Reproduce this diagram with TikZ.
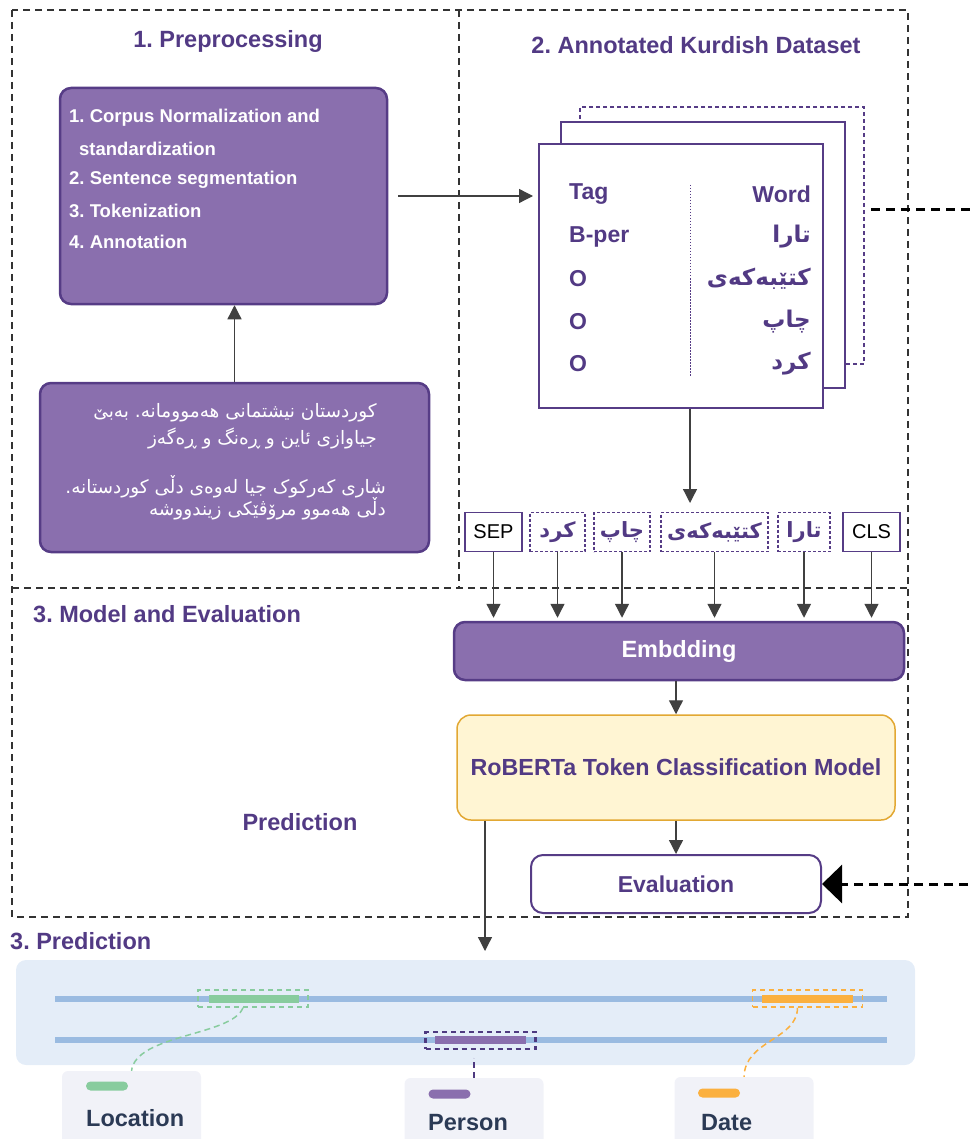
\documentclass[tikz,border=0pt]{standalone}
\usepackage{fontspec}
\setmainfont{Liberation Sans}
\newfontfamily\kurdfont[Script=Arabic]{DejaVu Sans}
\TeXXeTstate=1
\frenchspacing
\usetikzlibrary{arrows.meta}

\definecolor{titlepurple}{HTML}{523A84}
\definecolor{boxpurple}{HTML}{8A6FAE}
\definecolor{edgepurple}{HTML}{563C86}
\definecolor{arrowgray}{HTML}{404040}
\definecolor{framegray}{HTML}{333333}
\definecolor{modelfill}{HTML}{FFF5D3}
\definecolor{modeledge}{HTML}{E2A833}
\definecolor{predfill}{HTML}{E4EDF8}
\definecolor{trackblue}{HTML}{9ABBE1}
\definecolor{locgreen}{HTML}{88CC9E}
\definecolor{dateorange}{HTML}{FBB03F}
\definecolor{perdark}{HTML}{4E3A80}
\definecolor{legendfill}{HTML}{F1F2F8}
\definecolor{legendtext}{HTML}{2B3A55}

\newcommand{\kurd}[1]{{\kurdfont\beginR #1\endR}}

\tikzset{
	headtext/.style={inner sep=0pt, text=titlepurple, font=\fontsize{23.5}{28}\selectfont\bfseries},
	boxtext/.style={anchor=west, inner sep=0pt, text=white, font=\fontsize{18.5}{22}\selectfont\bfseries},
	kurdtext/.style={anchor=east, inner sep=0pt, text=white, font=\fontsize{18.5}{22}\selectfont},
	cardtext/.style={inner sep=0pt, text=titlepurple, font=\fontsize{23}{27}\selectfont\bfseries},
	purplebox/.style={draw=edgepurple, fill=boxpurple, line width=2.5pt, rounded corners=11pt},
	card/.style={draw=edgepurple, fill=white, line width=2pt},
	tokensolid/.style={draw=edgepurple, fill=white, line width=1.5pt, minimum height=39pt, font=\fontsize{20}{24}\selectfont},
	tokendot/.style={draw=edgepurple, fill=white, line width=1.5pt, dash pattern=on 3pt off 2pt, minimum height=39pt, text=titlepurple, font=\fontsize{21}{24}\selectfont\bfseries},
	modelbox/.style={draw=modeledge, fill=modelfill, line width=1.5pt, rounded corners=14pt, text=titlepurple, font=\fontsize{23.3}{28}\selectfont\bfseries},
	evalbox/.style={draw=edgepurple, fill=white, line width=2pt, rounded corners=12pt, text=titlepurple, font=\fontsize{23}{28}\selectfont\bfseries},
	frame/.style={framegray, line width=1.5pt, dash pattern=on 7pt off 5pt},
	arr/.style={arrowgray, line width=1.3pt, -{Triangle[length=14pt, width=14pt]}},
	feedback/.style={black, line width=3pt, dash pattern=on 9pt off 6pt, -{Triangle[length=20pt, width=38pt]}},
	track/.style={trackblue, line width=6pt},
	markbox/.style={line width=1.5pt, dash pattern=on 5pt off 4pt, minimum width=110pt, minimum height=17pt},
	pill/.style={minimum width=42pt, minimum height=9pt, inner sep=0pt, rounded corners=4.5pt},
	legendcard/.style={fill=legendfill, rounded corners=6pt, minimum width=139pt, minimum height=80pt},
	legendlabel/.style={anchor=west, inner sep=0pt, text=legendtext, font=\fontsize{23.5}{28}\selectfont\bfseries},
	linkline/.style={line width=1.5pt, dash pattern=on 6pt off 4pt}
}

\begin{document}
\begin{tikzpicture}[x=1pt,y=-1pt]
	\useasboundingbox (0,0) rectangle (973,1139);

	% dashed frames
	\draw[frame] (12,10) rectangle (908,917);
	\draw[frame] (12,588) -- (908,588);
	\draw[frame] (459,10) -- (459,588);

	\node[headtext] (preptitle) at (228,41) {1. Preprocessing};
	\node[headtext] (datatitle) at (696,45) {2. Annotated Kurdish Dataset};
	\node[headtext, anchor=west] (modeltitle) at (33,614) {3. Model and Evaluation};
	\node[headtext] (predlabel) at (300,822) {Prediction};
	\node[headtext, anchor=west] (predtitle) at (10,941) {3. Prediction};

	% preprocessing
	\node[purplebox, minimum width=327pt, minimum height=216pt] (prep) at (223.5,196) {};
	\node[boxtext] (prep1) at (69,118) {1. Corpus Normalization and};
	\node[boxtext] (prep2) at (79,149) {standardization};
	\node[boxtext] (prep3) at (69,180) {2. Sentence segmentation};
	\node[boxtext] (prep4) at (69,211) {3. Tokenization};
	\node[boxtext] (prep5) at (69,242) {4. Annotation};

	\node[purplebox, minimum width=389pt, minimum height=169pt] (kurdbox) at (234.5,467.5) {};
	\node[kurdtext] (kurd1) at (377,413) {\kurd{کوردستان نیشتمانی هەموومانە. بەبێ}};
	\node[kurdtext] (kurd2) at (377,438) {\kurd{جیاوازی ئاین و ڕەنگ و ڕەگەز}};
	\node[kurdtext] (kurd3) at (386,487) {\kurd{شاری کەرکوک جیا لەوەی دڵی کوردستانە.}};
	\node[kurdtext] (kurd4) at (386,509) {\kurd{دڵی هەموو مرۆڤێکی زیندووشە}};
	\draw[arr] (kurdbox.north) -- (kurdbox.north |- prep.south);

	% dataset cards
	\node[card, line width=1.5pt, dash pattern=on 4pt off 3pt, minimum width=284pt, minimum height=257pt] (card3) at (722,235.5) {};
	\node[card, minimum width=284pt, minimum height=266pt] (card2) at (703,255) {};
	\node[card, minimum width=284pt, minimum height=264pt] (card1) at (681,276) {};
	\draw[edgepurple, line width=0.8pt, dash pattern=on 1.5pt off 1.5pt] (690,185) -- (690,376);

	\node[cardtext, anchor=west] (tag0) at (569,194) {Tag};
	\node[cardtext, anchor=west] (tag1) at (569,237) {B-per};
	\node[cardtext, anchor=west] (tag2) at (569,279) {O};
	\node[cardtext, anchor=west] (tag3) at (569,322) {O};
	\node[cardtext, anchor=west] (tag4) at (569,364) {O};
	\node[cardtext, anchor=east] (word0) at (811,194) {Word};
	\node[cardtext, anchor=east] (word1) at (811,237) {\kurd{تارا}};
	\node[cardtext, anchor=east] (word2) at (811,279) {\kurd{کتێبەکەی}};
	\node[cardtext, anchor=east] (word3) at (811,322) {\kurd{چاپ}};
	\node[cardtext, anchor=east] (word4) at (811,364) {\kurd{کرد}};

	\draw[arr, shorten >=5pt] ([xshift=10pt]prep.east) -- (prep.east -| card1.west);

	% tokens
	\coordinate (tokentop) at (690,503);
	\draw[arr] (tokentop |- card1.south) -- (tokentop);
	\node[tokensolid, minimum width=57pt] (sep) at (493.5,532) {SEP};
	\node[tokendot, minimum width=55pt] (tkurd) at (557.5,532) {\kurd{کرد}};
	\node[tokendot, minimum width=56pt] (tchap) at (622,532) {\kurd{چاپ}};
	\node[tokendot, minimum width=107pt] (tkteb) at (714.5,532) {\kurd{کتێبەکەی}};
	\node[tokendot, minimum width=52pt] (ttara) at (804,532) {\kurd{تارا}};
	\node[tokensolid, minimum width=57pt] (cls) at (871.5,532) {CLS};

	% model and evaluation
	\node[purplebox, minimum width=450pt, minimum height=58pt, text=white, font=\fontsize{23.5}{28}\selectfont\bfseries] (emb) at (679,651) {Embdding};
	\node[modelbox, minimum width=438pt, minimum height=105pt] (model) at (676,767.5) {RoBERTa Token Classification Model};
	\node[evalbox, minimum width=290pt, minimum height=58pt] (eval) at (676,884) {Evaluation};

	\foreach \tok in {sep,tkurd,tchap,tkteb,ttara,cls}
		\draw[arr, shorten >=3pt] (\tok.south) -- (\tok.south |- emb.north);
	\draw[arr] (model.north |- emb.south) -- (model.north);
	\draw[arr] (model.south) -- (eval.north);

	\coordinate (fbstart) at (871,210);
	\coordinate (fbright) at (995,210);
	\coordinate (fbdown) at (995,884);
	\draw[feedback] (fbstart) -- (fbright) -- (fbdown) -- (eval.east);

	% prediction
	\coordinate (predtip) at (485,951);
	\draw[arr] (predtip |- model.south) -- (predtip);

	\node[fill=predfill, rounded corners=10pt, minimum width=899pt, minimum height=105pt] (predpanel) at (465.5,1012.5) {};
	\draw[track] (55,999) -- (887,999);
	\draw[track] (55,1040) -- (887,1040);
	\draw[locgreen, line width=8pt] (209,999) -- (299,999);
	\draw[dateorange, line width=8pt] (762,999) -- (853,999);
	\draw[boxpurple, line width=8pt] (435,1040) -- (526,1040);
	\node[markbox, draw=locgreen] (locmark) at (253,998.5) {};
	\node[markbox, draw=dateorange] (datemark) at (807.5,998.5) {};
	\node[markbox, draw=perdark, line width=2.2pt] (permark) at (480.5,1040.5) {};

	\node[legendcard] (loccard) at (131.5,1111) {};
	\node[legendcard] (percard) at (474,1118) {};
	\node[legendcard] (datecard) at (744,1117) {};
	\node[pill, fill=locgreen] (locpill) at (107,1086) {};
	\node[pill, fill=boxpurple] (perpill) at (449.5,1094) {};
	\node[pill, fill=dateorange] (datepill) at (719,1093) {};
	\node[legendlabel] (loclabel) at (86,1118) {Location};
	\node[legendlabel] (perlabel) at (428,1123) {Person};
	\node[legendlabel] (datelabel) at (701,1123) {Date};

	\draw[linkline, locgreen] ([xshift=-10pt]locmark.south) .. controls (232,1036) and (136,1034) .. (loccard.north);
	\draw[linkline, perdark] (percard.north) -- ++(0,-20);
	\draw[linkline, dateorange] ([xshift=-10pt]datemark.south) .. controls (797,1040) and (745,1040) .. (datecard.north);
\end{tikzpicture}
\end{document}
